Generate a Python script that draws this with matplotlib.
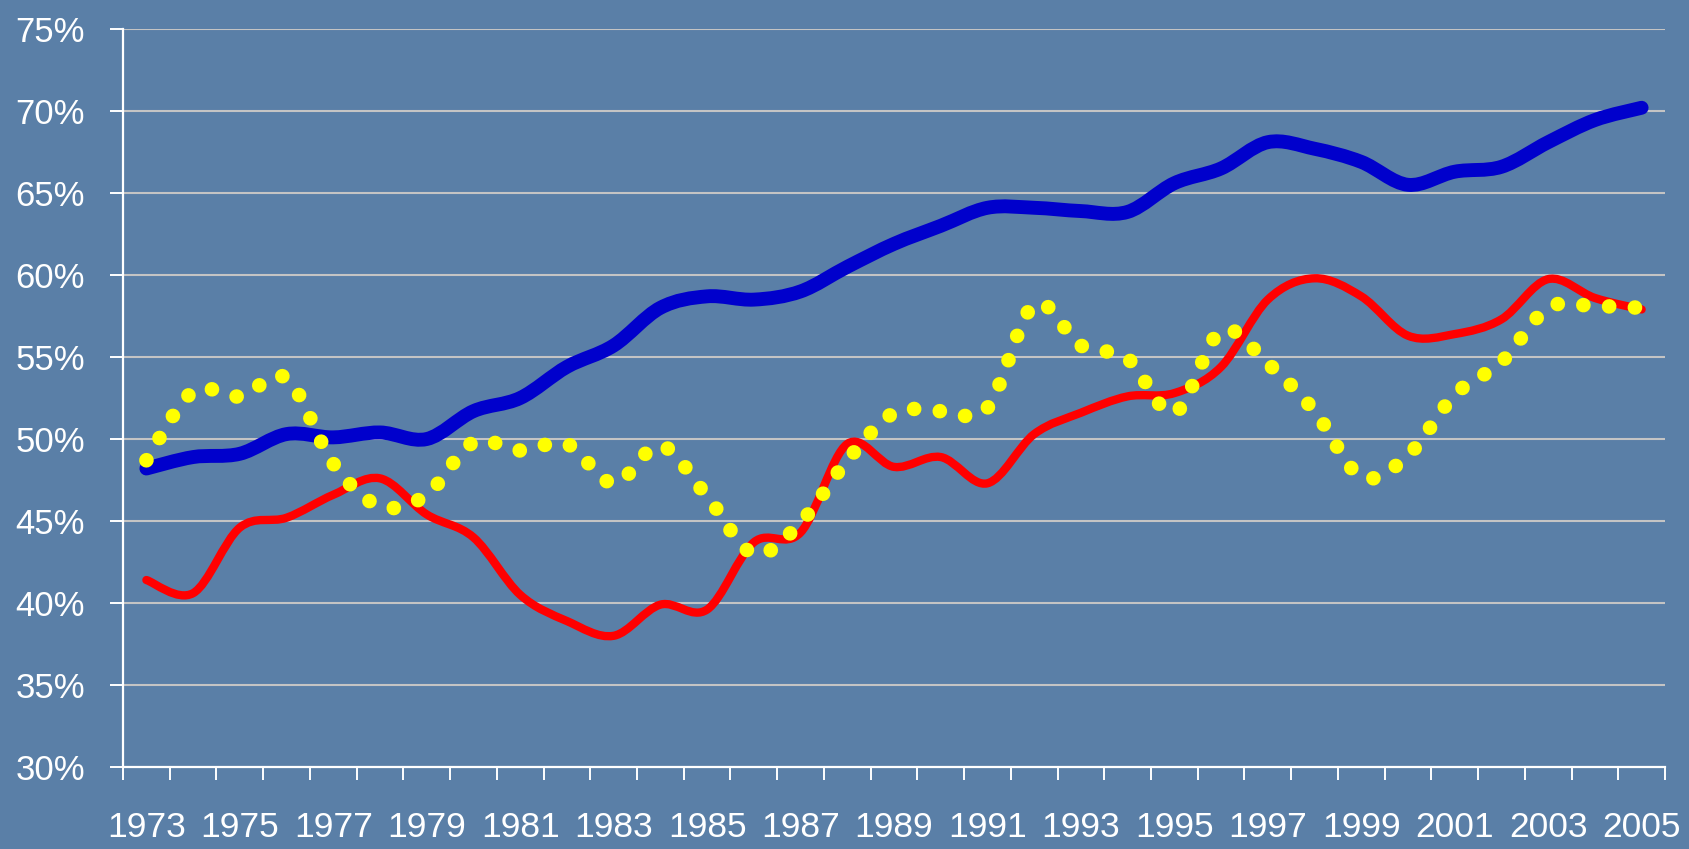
import numpy as np
import matplotlib
matplotlib.use('Agg')
import matplotlib.pyplot as plt
from matplotlib.path import Path
from matplotlib.patches import PathPatch

# 数据 (单位: %)
years = list(range(1973, 2006))
blue_vals = [48.2, 48.9, 49.1, 50.3, 50.1, 50.4, 50.0, 51.7, 52.5, 54.4,
             55.7, 58.0, 58.7, 58.5, 59.0, 60.5, 61.9, 63.0, 64.1, 64.1,
             63.9, 63.85, 65.6, 66.5, 68.1, 67.7, 66.9, 65.5, 66.3, 66.6,
             68.1, 69.45, 70.2]
red_vals = [41.4, 40.6, 44.6, 45.2, 46.6, 47.6, 45.4, 44.0, 40.5, 38.9,
            38.0, 39.9, 39.6, 43.7, 44.3, 49.7, 48.3, 48.9, 47.3, 50.3,
            51.6, 52.6, 52.8, 54.4, 58.5, 59.8, 58.7, 56.3, 56.4, 57.3,
            59.75, 58.6, 57.9]
yellow_vals = [48.7, 52.9, 52.6, 53.7, 48.5, 45.9, 46.6, 49.8, 49.3, 49.7,
               47.3, 49.6, 46.5, 43.0, 44.9, 48.7, 51.6, 51.7, 51.9, 58.2,
               55.7, 54.9, 51.6, 56.6, 54.6, 51.7, 47.7, 49.0, 52.7, 54.7,
               58.0, 58.1, 58.0]
y_ticks = [30, 35, 40, 45, 50, 55, 60, 65, 70, 75]

bg = '#5a7fa7'
plt.rcParams['font.family'] = ['Liberation Sans', 'DejaVu Sans']


def smooth_path(xs, ys):
    # 类似 Excel 平滑线: Catmull-Rom 转三次贝塞尔
    pts = np.column_stack([xs, ys]).astype(float)
    n = len(pts)
    verts = [pts[0]]
    codes = [Path.MOVETO]
    for i in range(n - 1):
        p0 = pts[max(i - 1, 0)]
        p1 = pts[i]
        p2 = pts[i + 1]
        p3 = pts[min(i + 2, n - 1)]
        verts += [p1 + (p2 - p0) / 6, p2 - (p3 - p1) / 6, p2]
        codes += [Path.CURVE4] * 3
    return Path(verts, codes)


fig = plt.figure(figsize=(16.9, 8.49), dpi=100, facecolor=bg)
ax = fig.add_axes([0.0728, 0.0966, 0.9124, 0.8692])
ax.set_facecolor(bg)

x = np.arange(len(years))
ax.add_patch(PathPatch(smooth_path(x, blue_vals), facecolor='none', edgecolor='#0000cc',
                       lw=10, capstyle='round', joinstyle='round', zorder=3))
ax.add_patch(PathPatch(smooth_path(x, red_vals), facecolor='none', edgecolor='#ff0000',
                       lw=6, capstyle='round', joinstyle='round', zorder=4))
ax.add_patch(PathPatch(smooth_path(x, yellow_vals), facecolor='none', edgecolor='#ffff00',
                       lw=10.5, capstyle='round', linestyle=(0, (0.01, 1.76)), zorder=5))

ax.set_xlim(-0.5, len(years) - 0.5)
ax.set_ylim(30, 75)

# 网格线
for v in y_ticks[1:]:
    ax.axhline(v, color='#c4c4c4', lw=1.5, zorder=1)

ax.set_yticks(y_ticks)
ax.set_yticklabels([f'{v}%' for v in y_ticks])
ax.set_xticks(x[::2])
ax.set_xticklabels([str(y) for y in years[::2]])
ax.set_xticks(np.arange(-0.5, len(years)), minor=True)

ax.tick_params(axis='y', colors='white', labelcolor='white', length=9.4, width=1.4,
               pad=18, labelsize=25)
ax.tick_params(axis='x', which='major', length=0, pad=32, labelcolor='white', labelsize=25.5)
ax.tick_params(axis='x', which='minor', length=9.4, width=1.4, color='white')

for s in ['top', 'right']:
    ax.spines[s].set_visible(False)
for s in ['left', 'bottom']:
    ax.spines[s].set_color('white')
    ax.spines[s].set_linewidth(1.6)
    ax.spines[s].set_zorder(2)

fig.savefig('out.png', dpi=100, facecolor=bg)
